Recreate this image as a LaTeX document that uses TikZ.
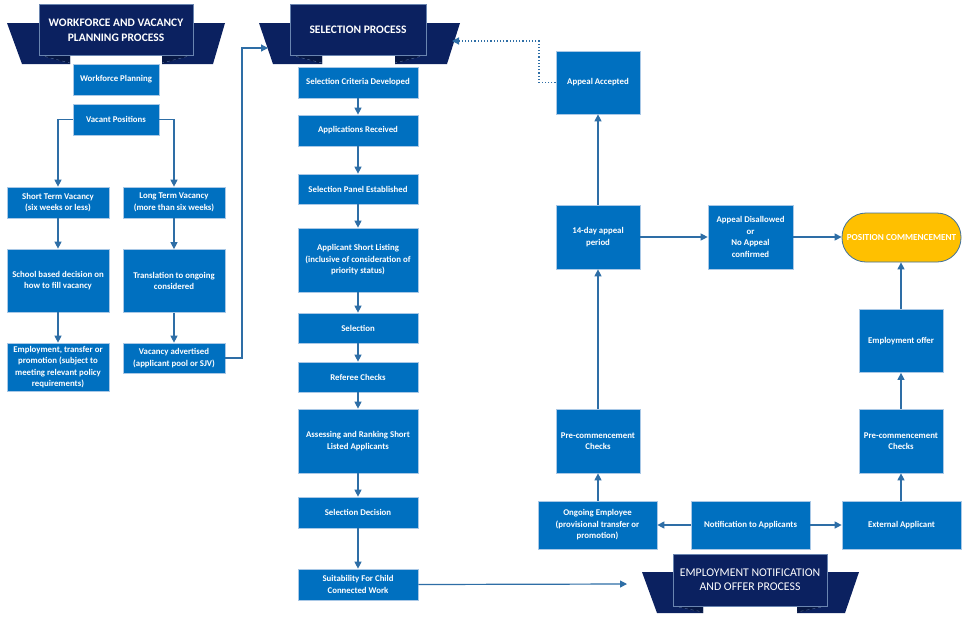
\documentclass[tikz,border=0pt]{standalone}
\usepackage{fontspec}
\setmainfont{Carlito}
\usetikzlibrary{arrows.meta}
\definecolor{boxblue}{HTML}{0070C0}
\definecolor{boxedge}{HTML}{A9C8E6}
\definecolor{navy}{HTML}{0B2160}
\definecolor{navyfold}{HTML}{071845}
\definecolor{arrowc}{HTML}{2E6EA6}
\definecolor{gold}{HTML}{FFC000}
\definecolor{goldedge}{HTML}{41719C}
\tikzset{
  box/.style={draw=boxedge, line width=0.7pt, fill=boxblue, text=white, align=center,
    inner sep=1pt, font=\bfseries\fontsize{8.8}{11.5}\selectfont},
  wing/.style={fill=navy},
  bandc/.style={fill=navy, draw=boxedge!60!navy, line width=0.5pt},
  foldln/.style={draw=boxedge!50!navy, dashed, line width=0.4pt},
  btext/.style={text=white, align=center, font=\bfseries\fontsize{11.5}{15}\selectfont},
  conn/.style={draw=arrowc, line width=1.2pt, -{Triangle[length=7pt,width=7pt]}},
  dconn/.style={draw=arrowc, line width=1.2pt, dotted, -{Triangle[length=7pt,width=7pt]}},
  stad/.style={draw=goldedge, line width=0.8pt, fill=gold, rounded corners=24pt, text=white,
    align=center, font=\bfseries\fontsize{9.2}{10}\selectfont}
}
\begin{document}
\begin{tikzpicture}[x=1pt,y=-1pt]
\useasboundingbox[fill=white] (0,0) rectangle (968,619);
% ---------- banner 1 ----------
\fill[wing] (7,23) -- (70,23) -- (70,64) -- (22,64) -- cycle;
\fill[wing] (162,23) -- (225,23) -- (213,64) -- (162,64) -- cycle;
\fill[navyfold] (39,55) -- (70,55) -- (70,64) -- cycle;
\fill[navyfold] (162,55) -- (193,55) -- (162,64) -- cycle;
\draw[foldln] (39,55) -- (70,63);
\draw[foldln] (193,55) -- (162,63);
\draw[bandc] (39,4) rectangle (193,55);
\node[btext] (b1) at (116,30) {WORKFORCE AND VACANCY\\PLANNING PROCESS};
% ---------- banner 2 ----------
\fill[wing] (259,23) -- (322,23) -- (322,64) -- (273,64) -- cycle;
\fill[wing] (395,23) -- (460,23) -- (447,64) -- (395,64) -- cycle;
\fill[navyfold] (290,55) -- (322,55) -- (322,64) -- cycle;
\fill[navyfold] (395,55) -- (426,55) -- (395,64) -- cycle;
\draw[foldln] (290,55) -- (322,63);
\draw[foldln] (426,55) -- (395,63);
\draw[bandc] (290,4) rectangle (426,55);
\node[btext] (b2) at (358,30) {SELECTION PROCESS};
% ---------- banner 3 ----------
\fill[wing] (642,572) -- (703,572) -- (703,613) -- (657,613) -- cycle;
\fill[wing] (797,572) -- (859,572) -- (845,613) -- (797,613) -- cycle;
\fill[navyfold] (673,606) -- (703,606) -- (703,613) -- cycle;
\fill[navyfold] (797,606) -- (827,606) -- (797,613) -- cycle;
\draw[foldln] (673,606) -- (703,612);
\draw[foldln] (827,606) -- (797,612);
\draw[bandc] (673,554) rectangle (827,606);
\node[btext, font=\fontsize{11.8}{14}\selectfont] (b3) at (750,580) {EMPLOYMENT NOTIFICATION\\AND OFFER PROCESS};

% ---------- left column ----------
\node[box, minimum width=86pt, minimum height=31pt] (wp) at (116,79.5) {Workforce Planning};
\node[box, minimum width=86pt, minimum height=31pt] (vp) at (116,119.5) {Vacant Positions};
\node[box, minimum width=102pt, minimum height=31pt] (st) at (58,202.5) {Short Term Vacancy\\(six weeks or less)};
\node[box, minimum width=102pt, minimum height=31pt] (lt) at (174,202.5) {Long Term Vacancy\\(more than six weeks)};
\node[box, minimum width=102pt, minimum height=63pt] (sb) at (58,280.5) {School based decision on\\how to fill vacancy};
\node[box, minimum width=102pt, minimum height=63pt] (tr) at (174,281) {Translation to ongoing\\considered};
\node[box, minimum width=102pt, minimum height=48pt] (et) at (58,367) {Employment, transfer or\\promotion (subject to\\meeting relevant policy\\requirements)};
\node[box, minimum width=102pt, minimum height=30pt] (va) at (174,358) {Vacancy advertised\\(applicant pool or SJV)};

% ---------- center column ----------
\node[box, minimum width=120pt, minimum height=31pt] (scd) at (358,82.5) {Selection Criteria Developed};
\node[box, minimum width=120pt, minimum height=31pt] (ar) at (358,130.5) {Applications Received};
\node[box, minimum width=120pt, minimum height=30pt] (spe) at (358,189) {Selection Panel Established};
\node[box, minimum width=120pt, minimum height=64pt] (asl) at (358,260) {Applicant Short Listing\\(inclusive of consideration of\\priority status)};
\node[box, minimum width=120pt, minimum height=30pt] (sel) at (358,328) {Selection};
\node[box, minimum width=120pt, minimum height=30pt] (ref) at (358,377) {Referee Checks};
\node[box, minimum width=120pt, minimum height=64pt] (ass) at (358,441) {Assessing and Ranking Short\\Listed Applicants};
\node[box, minimum width=120pt, minimum height=31pt] (sd) at (358,512.5) {Selection Decision};
\node[box, minimum width=120pt, minimum height=31pt] (suit) at (358,584.5) {Suitability For Child\\Connected Work};

% ---------- right part ----------
\node[box, minimum width=84pt, minimum height=63pt] (aa) at (598,82.5) {Appeal Accepted};
\node[box, minimum width=84pt, minimum height=64pt] (ap) at (598,237) {14-day appeal\\period};
\node[box, minimum width=85pt, minimum height=64pt] (ad) at (750.5,237) {Appeal Disallowed\\or\\No Appeal\\confirmed};
\node[stad, minimum width=119pt, minimum height=49pt, inner sep=0pt] (pc) at (901.5,237.5) {POSITION COMMENCEMENT};
\node[box, minimum width=84pt, minimum height=63pt] (eo) at (901,341) {Employment offer};
\node[box, minimum width=84pt, minimum height=64pt] (pcl) at (598,441) {Pre-commencement\\Checks};
\node[box, minimum width=84pt, minimum height=64pt] (pcr) at (901,441) {Pre-commencement\\Checks};
\node[box, minimum width=119pt, minimum height=48pt] (oe) at (597.5,525) {Ongoing Employee\\(provisional transfer or\\promotion)};
\node[box, minimum width=119pt, minimum height=48pt] (na) at (750.5,525) {Notification to Applicants};
\node[box, minimum width=119pt, minimum height=48pt] (ea) at (901.5,525) {External Applicant};

% ---------- connector end points ----------
\coordinate (b2in) at (268,48);
\coordinate (b2r) at (452,41);
\coordinate (b3in) at (627,584);

% ---------- connectors ----------
\draw[conn] (vp.west) -| (st.north);
\draw[conn] (vp.east) -| (lt.north);
\draw[conn] (st) -- (sb);
\draw[conn] (sb) -- (et);
\draw[conn] (lt) -- (tr);
\draw[conn] (tr) -- (va);
\draw[conn] (va.east) -- (242,358) |- (b2in);
\draw[conn] (scd) -- (ar);
\draw[conn] (ar) -- (spe);
\draw[conn] (spe) -- (asl);
\draw[conn] (asl) -- (sel);
\draw[conn] (sel) -- (ref);
\draw[conn] (ref) -- (ass);
\draw[conn] (ass) -- (sd);
\draw[conn] (sd) -- (suit);
\draw[conn] (suit.east) -- (b3in);
\draw[conn] (na) -- (oe);
\draw[conn] (na) -- (ea);
\draw[conn] (oe.north -| pcl) -- (pcl.south);
\draw[conn] (ea.north -| pcr) -- (pcr.south);
\draw[conn] (pcl) -- (ap);
\draw[conn] (ap) -- (aa);
\draw[conn] (pcr) -- (eo);
\draw[conn] (eo) -- (pc.south -| eo);
\draw[conn] (ap) -- (ad);
\draw[conn] (ad.east) -- (pc.west |- ad.east);
\draw[dconn] (aa.west) -- (539,82.5) |- (b2r);
\end{tikzpicture}
\end{document}
